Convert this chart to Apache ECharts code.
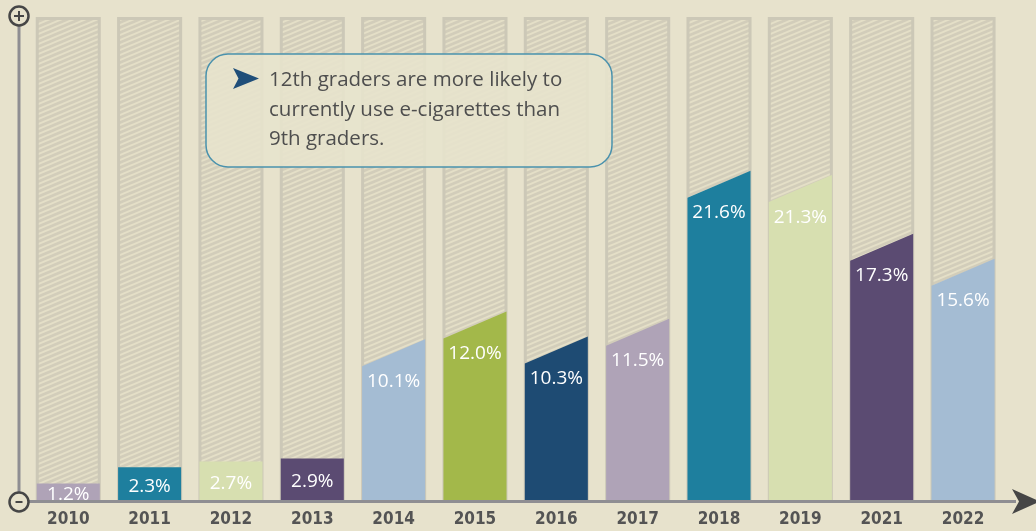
<!DOCTYPE html>
<html>
<head>
<meta charset="utf-8">
<script src="https://cdn.jsdelivr.net/npm/echarts@6/dist/echarts.min.js"></script>
<style>
html,body{margin:0;padding:0;background:#e7e2cc;}
#chart{width:1036px;height:531px;}
</style>
</head>
<body>
<div id="chart"></div>
<script>
// ---- data ----
const years = ['2010','2011','2012','2013','2014','2015','2016','2017','2018','2019','2021','2022'];
const values = [1.2, 2.3, 2.7, 2.9, 10.1, 12.0, 10.3, 11.5, 21.6, 21.3, 17.3, 15.6];
const labels = ['1.2%','2.3%','2.7%','2.9%','10.1%','12.0%','10.3%','11.5%','21.6%','21.3%','17.3%','15.6%'];
const noteLines = ['12th graders are more likely to', 'currently use e-cigarettes than', '9th graders.'];

// ---- styles ----
const barColors = ['#afa3b7','#1e7f9e','#d7dfb0','#5b4b72','#a4bcd3','#a3b84a','#1e4b73','#afa3b7','#1e7f9e','#d7dfb0','#5b4b72','#a4bcd3'];
const YMAX = 33;

function makeHatch(){
  const c = document.createElement('canvas');
  c.width = 12; c.height = 5;
  const g = c.getContext('2d');
  g.fillStyle = '#d2cdba';
  g.fillRect(0,0,12,5);
  g.strokeStyle = '#e4dfc7';
  g.lineWidth = 2;
  [-5, 0, 5].forEach(function(o){
    g.beginPath();
    g.moveTo(-12, 10 + o);
    g.lineTo(24, -5 + o);
    g.stroke();
  });
  return c;
}
const hatch = makeHatch();

const chart = echarts.init(document.getElementById('chart'), null, {renderer:'canvas'});

function renderItem(params, api){
  const i = api.value(0), v = api.value(1);
  const base = api.coord([i, 0]);
  const top = api.coord([i, v]);
  const full = api.coord([i, YMAX]);
  const band = api.size([1, 0])[0];
  const c = base[0];
  const bgW = band * 0.8, colW = band * 0.775;
  const slant = v > 5 ? 13.5 : 0;
  const yl = top[1] + slant, yr = top[1] - slant;
  const labelY = v > 5 ? yl + 15 : (top[1] + base[1]) / 2 + 2;
  return {
    type: 'group',
    children: [
      {type:'rect', shape:{x:c-bgW/2, y:full[1], width:bgW, height:base[1]-full[1]}, style:{fill:'#ccc8b7'}},
      {type:'rect', shape:{x:c-bgW/2+3, y:full[1]+3, width:bgW-6, height:base[1]-full[1]-3}, style:{fill:{image:hatch, repeat:'repeat'}}},
      {type:'polygon', shape:{points:[[c-colW/2, base[1]],[c-colW/2, yl],[c+colW/2, yr],[c+colW/2, base[1]]]}, style:{fill:barColors[params.dataIndex]}},
      {type:'text', style:{text:labels[params.dataIndex], x:c, y:labelY, align:'center', verticalAlign:'middle', textAlign:'center', textVerticalAlign:'middle', fill:'#ffffff', font:'19px "Open Sans", Lato, sans-serif'}}
    ]
  };
}

const axisGray = '#8f8e92';
const dark = '#464646';
const noteFont = '20.5px "Open Sans", Lato, sans-serif';

chart.setOption({
  backgroundColor: '#e7e2cc',
  animation: false,
  grid: {left: 27.6, right: 32.3, top: 17, bottom: 30},
  xAxis: {
    type: 'category', data: years,
    axisLine: {show:false}, axisTick: {show:false},
    axisLabel: {margin: 10, color:'#545454', fontSize:17, fontWeight:'bold', fontFamily:'"Liberation Sans Narrow", "DejaVu Sans Condensed", sans-serif'}
  },
  yAxis: {type:'value', min:0, max:YMAX, show:false, splitLine:{show:false}},
  series: [{
    type: 'custom',
    renderItem: renderItem,
    data: values.map(function(v, i){ return [i, v]; }),
    z: 2
  }],
  graphic: [
    // axes
    {type:'line', shape:{x1:19, y1:26, x2:19, y2:492}, style:{stroke:axisGray, lineWidth:3}, z:10},
    {type:'line', shape:{x1:29, y1:501.5, x2:1016, y2:501.5}, style:{stroke:axisGray, lineWidth:3}, z:10},
    {type:'polygon', shape:{points:[[1012,489],[1040,501.5],[1012,514],[1019,501.5]]}, style:{fill:dark}, z:11},
    {type:'circle', shape:{cx:19, cy:16, r:9.5}, style:{fill:'#e7e2cc', stroke:dark, lineWidth:2.5}, z:11},
    {type:'line', shape:{x1:14, y1:16, x2:24, y2:16}, style:{stroke:dark, lineWidth:2}, z:12},
    {type:'line', shape:{x1:19, y1:11, x2:19, y2:21}, style:{stroke:dark, lineWidth:2}, z:12},
    {type:'circle', shape:{cx:19, cy:502, r:9.5}, style:{fill:'#e7e2cc', stroke:dark, lineWidth:2.5}, z:11},
    {type:'line', shape:{x1:15.5, y1:502, x2:22.5, y2:502}, style:{stroke:dark, lineWidth:2}, z:12},
    // annotation
    {type:'rect', shape:{x:206, y:54, width:406, height:113, r:22}, style:{fill:'rgba(231,228,205,0.88)', stroke:'#4a92ad', lineWidth:1.5}, z:20},
    {type:'polygon', shape:{points:[[233,68],[259,78.5],[233,89],[238.5,78.5]]}, style:{fill:'#1f4e79'}, z:21},
    {type:'text', x:269, y:80, style:{text:noteLines[0], fill:'#4e4e4e', font:noteFont, verticalAlign:'middle', textVerticalAlign:'middle'}, z:21},
    {type:'text', x:269, y:110, style:{text:noteLines[1], fill:'#4e4e4e', font:noteFont, verticalAlign:'middle', textVerticalAlign:'middle'}, z:21},
    {type:'text', x:269, y:139, style:{text:noteLines[2], fill:'#4e4e4e', font:noteFont, verticalAlign:'middle', textVerticalAlign:'middle'}, z:21}
  ]
});
</script>
</body>
</html>
